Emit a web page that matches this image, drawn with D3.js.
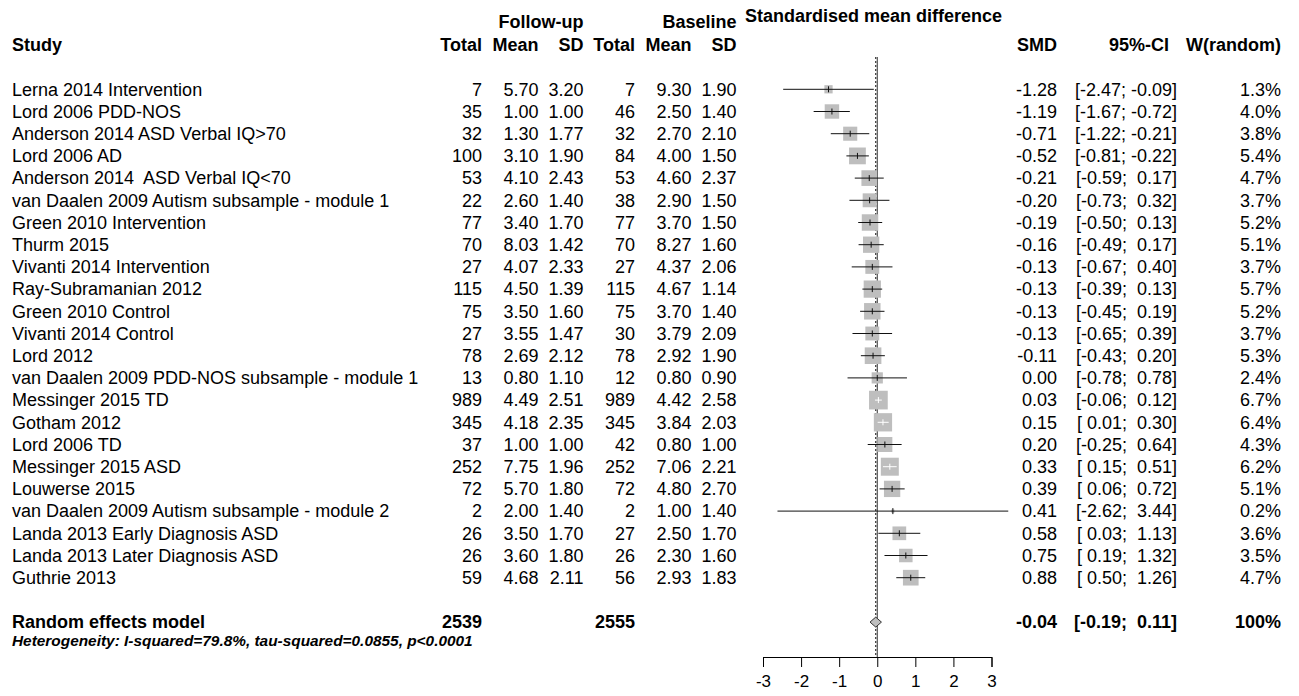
<!DOCTYPE html>
<html>
<head>
<meta charset="utf-8">
<script src="https://cdn.jsdelivr.net/npm/d3@7"></script>
<style>
    body { margin: 0; background: #fff; }
    svg text { font-family: "Liberation Sans", Arial, sans-serif; font-size: 18px; fill: #000; white-space: pre; }
    svg text.bold { font-weight: bold; }
</style>
</head>
<body>
<svg id="forest" width="1299" height="696"></svg>
<script>
(() => {
    // data
    const studies = [
        "Lerna 2014 Intervention", "Lord 2006 PDD-NOS", "Anderson 2014 ASD Verbal IQ>70", "Lord 2006 AD",
        "Anderson 2014  ASD Verbal IQ<70", "van Daalen 2009 Autism subsample - module 1", "Green 2010 Intervention",
        "Thurm 2015", "Vivanti 2014 Intervention", "Ray-Subramanian 2012", "Green 2010 Control",
        "Vivanti 2014 Control", "Lord 2012", "van Daalen 2009 PDD-NOS subsample - module 1", "Messinger 2015 TD",
        "Gotham 2012", "Lord 2006 TD", "Messinger 2015 ASD", "Louwerse 2015",
        "van Daalen 2009 Autism subsample - module 2", "Landa 2013 Early Diagnosis ASD",
        "Landa 2013 Later Diagnosis ASD", "Guthrie 2013"
    ];
    const fuTotal = [7, 35, 32, 100, 53, 22, 77, 70, 27, 115, 75, 27, 78, 13, 989, 345, 37, 252, 72, 2, 26, 26, 59];
    const fuMean = [5.70, 1.00, 1.30, 3.10, 4.10, 2.60, 3.40, 8.03, 4.07, 4.50, 3.50, 3.55, 2.69, 0.80, 4.49, 4.18, 1.00, 7.75, 5.70, 2.00, 3.50, 3.60, 4.68];
    const fuSD = [3.20, 1.00, 1.77, 1.90, 2.43, 1.40, 1.70, 1.42, 2.33, 1.39, 1.60, 1.47, 2.12, 1.10, 2.51, 2.35, 1.00, 1.96, 1.80, 1.40, 1.70, 1.80, 2.11];
    const blTotal = [7, 46, 32, 84, 53, 38, 77, 70, 27, 115, 75, 30, 78, 12, 989, 345, 42, 252, 72, 2, 27, 26, 56];
    const blMean = [9.30, 2.50, 2.70, 4.00, 4.60, 2.90, 3.70, 8.27, 4.37, 4.67, 3.70, 3.79, 2.92, 0.80, 4.42, 3.84, 0.80, 7.06, 4.80, 1.00, 2.50, 2.30, 2.93];
    const blSD = [1.90, 1.40, 2.10, 1.50, 2.37, 1.50, 1.50, 1.60, 2.06, 1.14, 1.40, 2.09, 1.90, 0.90, 2.58, 2.03, 1.00, 2.21, 2.70, 1.40, 1.70, 1.60, 1.83];
    const smd = [-1.28, -1.19, -0.71, -0.52, -0.21, -0.20, -0.19, -0.16, -0.13, -0.13, -0.13, -0.13, -0.11, 0.00, 0.03, 0.15, 0.20, 0.33, 0.39, 0.41, 0.58, 0.75, 0.88];
    const lower = [-2.47, -1.67, -1.22, -0.81, -0.59, -0.73, -0.50, -0.49, -0.67, -0.39, -0.45, -0.65, -0.43, -0.78, -0.06, 0.01, -0.25, 0.15, 0.06, -2.62, 0.03, 0.19, 0.50];
    const upper = [-0.09, -0.72, -0.21, -0.22, 0.17, 0.32, 0.13, 0.17, 0.40, 0.13, 0.19, 0.39, 0.20, 0.78, 0.12, 0.30, 0.64, 0.51, 0.72, 3.44, 1.13, 1.32, 1.26];
    const weight = [1.3, 4.0, 3.8, 5.4, 4.7, 3.7, 5.2, 5.1, 3.7, 5.7, 5.2, 3.7, 5.3, 2.4, 6.7, 6.4, 4.3, 6.2, 5.1, 0.2, 3.6, 3.5, 4.7];

    const pooled = { label: "Random effects model", fuTotal: 2539, blTotal: 2555, smd: -0.04, lower: -0.19, upper: 0.11, weight: "100%" };
    const heterogeneity = "Heterogeneity: I-squared=79.8%, tau-squared=0.0855, p<0.0001";
    const axisTicks = [-3, -2, -1, 0, 1, 2, 3];

    const svg = d3.select("svg#forest");

    // row positions (row index -> y)
    const y = d3.scaleLinear().domain([0, studies.length - 1]).range([89.3, 577.7]);
    const pooledRow = studies.length + 1;
    // effect size scale
    const x = d3.scaleLinear().domain([-3, 3]).range([763, 991.5]);

    // column right edges
    const col = { study: 12, fuTotal: 482, fuMean: 538.5, fuSD: 583.5, blTotal: 635, blMean: 691.5, blSD: 736.5, smd: 1057, ci: 1177, w: 1281 };

    const fmt2 = v => v.toFixed(2);
    const pad = v => (v < 0 ? "" : " ") + v.toFixed(2);
    const ciText = (lo, hi) => `[${pad(lo)}; ${pad(hi)}]`;

    const addText = (g, tx, ty, str, anchor, cls) => g.append("text")
        .attr("x", tx).attr("y", ty).attr("dy", "0.35em")
        .attr("text-anchor", anchor).attr("class", cls || null).text(str);

    // headers
    const head = svg.append("g").attr("class", "headers");
    addText(head, col.fuSD, 22, "Follow-up", "end", "bold");
    addText(head, col.blSD, 22, "Baseline", "end", "bold");
    addText(head, 745, 16, "Standardised mean difference", "start", "bold");
    addText(head, col.study, 45, "Study", "start", "bold");
    [["fuTotal", "Total"], ["fuMean", "Mean"], ["fuSD", "SD"], ["blTotal", "Total"], ["blMean", "Mean"], ["blSD", "SD"],
     ["smd", "SMD"], ["w", "W(random)"]].forEach(([k, s]) => addText(head, col[k], 45, s, "end", "bold"));
    addText(head, col.ci - 8, 45, "95%-CI", "end", "bold");

    // study rows
    const rows = svg.append("g").attr("class", "rows")
        .selectAll("g").data(studies).enter().append("g");
    rows.each(function (d, i) {
        const g = d3.select(this);
        const yy = y(i);
        addText(g, col.study, yy, d, "start");
        addText(g, col.fuTotal, yy, String(fuTotal[i]), "end");
        addText(g, col.fuMean, yy, fmt2(fuMean[i]), "end");
        addText(g, col.fuSD, yy, fmt2(fuSD[i]), "end");
        addText(g, col.blTotal, yy, String(blTotal[i]), "end");
        addText(g, col.blMean, yy, fmt2(blMean[i]), "end");
        addText(g, col.blSD, yy, fmt2(blSD[i]), "end");
        addText(g, col.smd, yy, fmt2(smd[i]), "end");
        addText(g, col.ci, yy, ciText(lower[i], upper[i]), "end");
        addText(g, col.w, yy, weight[i].toFixed(1) + "%", "end");
    });

    // pooled row
    const py = y(pooledRow);
    const pg = svg.append("g").attr("class", "pooled");
    addText(pg, col.study, py, pooled.label, "start", "bold");
    addText(pg, col.fuTotal, py, String(pooled.fuTotal), "end", "bold");
    addText(pg, col.blTotal, py, String(pooled.blTotal), "end", "bold");
    addText(pg, col.smd, py, fmt2(pooled.smd), "end", "bold");
    addText(pg, col.ci, py, ciText(pooled.lower, pooled.upper), "end", "bold");
    addText(pg, col.w, py, pooled.weight, "end", "bold");
    pg.append("text").attr("x", col.study).attr("y", 641).attr("dy", "0.35em")
        .style("font-size", "15.4px").style("font-weight", "bold").style("font-style", "italic")
        .text(heterogeneity);

    // reference lines
    const axisY = 657;
    const lines = svg.append("g").attr("class", "ref-lines");
    lines.append("line")
        .attr("x1", x(0)).attr("x2", x(0)).attr("y1", 57).attr("y2", axisY)
        .attr("stroke", "#333").attr("stroke-width", 1);
    lines.append("line")
        .attr("x1", x(pooled.smd)).attr("x2", x(pooled.smd)).attr("y1", 57).attr("y2", axisY)
        .attr("stroke", "#333").attr("stroke-width", 1.2).attr("stroke-dasharray", "2,2");

    // boxes and CIs
    const maxW = d3.max(weight);
    const boxSize = d3.scaleSqrt().domain([0, maxW]).range([0, 18.7]);
    const marks = svg.append("g").attr("class", "marks")
        .selectAll("g").data(studies).enter().append("g");
    marks.each(function (d, i) {
        const g = d3.select(this);
        const yy = y(i);
        const s = boxSize(weight[i]);
        const cx = x(smd[i]);
        g.append("rect")
            .attr("x", cx - s / 2).attr("y", yy - s / 2)
            .attr("width", s).attr("height", s)
            .attr("fill", "#bebebe");
        // CI drawn white when it sits wholly inside the box
        const inside = x(lower[i]) >= cx - s / 2 && x(upper[i]) <= cx + s / 2;
        const c = inside ? "#fff" : "#111";
        g.append("line")
            .attr("x1", x(lower[i])).attr("x2", x(upper[i]))
            .attr("y1", yy).attr("y2", yy)
            .attr("stroke", c).attr("stroke-width", 1);
        g.append("line")
            .attr("x1", cx).attr("x2", cx)
            .attr("y1", yy - 3).attr("y2", yy + 3)
            .attr("stroke", c).attr("stroke-width", 1);
    });

    // pooled diamond
    svg.append("path")
        .attr("d", `M${x(pooled.lower)},${py} L${x(pooled.smd)},${py - 5} L${x(pooled.upper)},${py} L${x(pooled.smd)},${py + 5} Z`)
        .attr("fill", "#bebebe").attr("stroke", "#333").attr("stroke-width", 1);

    // x axis
    const axis = svg.append("g")
        .attr("class", "x-axis")
        .attr("transform", `translate(0, ${axisY})`)
        .call(d3.axisBottom(x).tickValues(axisTicks).tickSize(10).tickPadding(8).tickFormat(d3.format("d")));
    axis.select(".domain").attr("stroke", "#000");
    axis.selectAll(".tick line").attr("stroke", "#000");
    axis.selectAll(".tick text")
        .style("font-family", "'Liberation Sans', Arial, sans-serif")
        .style("font-size", "17px")
        .text(d => d < 0 ? "-" + Math.abs(d) : String(d));
})();
</script>
</body>
</html>
